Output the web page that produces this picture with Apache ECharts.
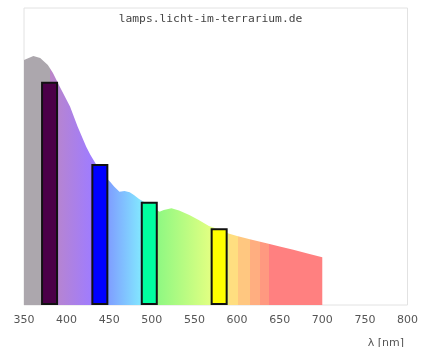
<!DOCTYPE html>
<html><head><meta charset="utf-8">
<script src="https://cdn.jsdelivr.net/npm/echarts@6/dist/echarts.min.js"></script>
<style>html,body{margin:0;padding:0;background:#fff}#c{width:421px;height:347px}</style>
</head><body><div id="c"></div>
<script>
// spectrum (relative intensity)
const wavelengths = [350,361,369,378,384,392,404,413,423,428,440,451,456,462,468,474,479,485,497,509,514,523,532,544,555,567,580,590,600,615,637,650,666,685,700];
const intensity   = [82.5,83.8,83.2,80.8,78.1,73.5,66.8,60.0,53.3,50.5,44.8,41.5,39.8,38.1,38.4,38.0,37.0,35.7,33.7,31.4,32.0,32.6,31.8,30.3,28.6,26.6,25.3,24.1,23.2,22.1,20.6,19.7,18.6,17.2,16.1];
// LED peaks
const peakWavelengths = [380,439,497,579];
const peakValues = [75.2,47.5,34.8,25.8];
const peakColors = ['#4b0048','#0000ff','#00ffa0','#ffff00'];
const xTicks = [350,400,450,500,550,600,650,700,750,800];

const lo = wavelengths[0], hi = wavelengths[wavelengths.length-1];
const off = l => (l - lo) / (hi - lo);
const stops = [
  [350,'#aca7ad'],[381,'#aca7ad'],[381,'#bb86c8'],[430,'#9f7cff'],[450,'#7fa0ff'],
  [486,'#82e4ff'],[508,'#90f882'],[568,'#e0ff82'],[590,'#e8f080'],[590,'#ffde80'],
  [601,'#ffde80'],[601,'#ffc780'],[615,'#ffc780'],[615,'#ffae80'],[627,'#ffae80'],
  [627,'#ff9980'],[637,'#ff9980'],[637,'#ff8080'],[700,'#ff8080']
].map(s => ({offset: off(s[0]), color: s[1]}));

const chart = echarts.init(document.getElementById('c'));
chart.setOption({
  animation: false,
  title: [
    {text: 'lamps.licht-im-terrarium.de', left: 'center', top: 9,
     textStyle: {fontFamily: 'DejaVu Sans Mono', fontSize: 11.3, fontWeight: 'normal', color: '#444'}},
    {text: 'λ [nm]', right: 12, top: 333,
     textStyle: {fontFamily: 'DejaVu Sans', fontSize: 11, fontWeight: 'normal', color: '#555'}}
  ],
  grid: {left: 24, right: 11, top: 8, bottom: 42, show: true, borderColor: '#e2e2e2', borderWidth: 1, backgroundColor: '#fff'},
  xAxis: {
    type: 'value', min: xTicks[0], max: xTicks[xTicks.length-1], interval: 50,
    axisLine: {show: false}, axisTick: {show: false}, splitLine: {show: false},
    axisLabel: {color: '#555', fontFamily: 'DejaVu Sans', fontSize: 11, margin: 10}
  },
  yAxis: {type: 'value', min: 0, max: 100, show: false, splitLine: {show: false}},
  series: [
    {
      type: 'line', data: wavelengths.map((w,i)=>[w,intensity[i]]),
      showSymbol: false, symbol: 'none', lineStyle: {width: 0},
      areaStyle: {opacity: 1, color: new echarts.graphic.LinearGradient(0,0,1,0, stops)},
      z: 1
    },
    {
      type: 'bar', barWidth: 17,
      data: peakWavelengths.map((w,i)=>({value:[w,peakValues[i]], itemStyle:{color: peakColors[i]}})),
      itemStyle: {borderColor: '#111', borderWidth: 2},
      z: 2
    }
  ]
});
</script></body></html>
